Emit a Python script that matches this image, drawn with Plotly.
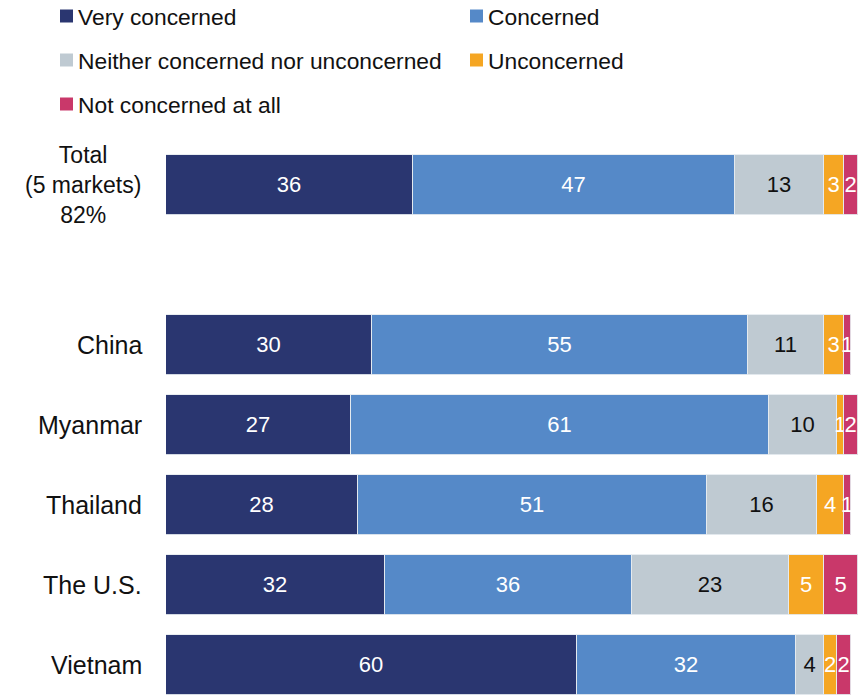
import plotly.graph_objects as go

# Row layout (empty string = spacer row between the total and the markets)
rows = ["Total<br>(5 markets)<br>82%", "", "China", "Myanmar", "Thailand", "The U.S.", "Vietnam"]

series_names = [
    "Very concerned",
    "Concerned",
    "Neither concerned nor unconcerned",
    "Unconcerned",
    "Not concerned at all",
]
series_colors = ["#2a3670", "#5589c8", "#bfcad2", "#f5a623", "#c9386a"]
label_colors = ["white", "white", "#111111", "white", "white"]

# Values per series, in the order of the non-empty rows
very_concerned = [36, 30, 27, 28, 32, 60]
concerned = [47, 55, 61, 51, 36, 32]
neither = [13, 11, 10, 16, 23, 4]
unconcerned = [3, 3, 1, 4, 5, 2]
not_at_all = [2, 1, 2, 1, 5, 2]
series_values = [very_concerned, concerned, neither, unconcerned, not_at_all]

W, H = 860, 695
FONT = "Liberation Sans, Arial, sans-serif"

y_pos = [i for i, r in enumerate(rows) if r]
y_labels = [r for r in rows if r]

fig = go.Figure()
for name, color, tcolor, vals in zip(series_names, series_colors, label_colors, series_values):
    fig.add_trace(go.Bar(
        x=vals, y=y_pos, orientation="h", name=name,
        marker=dict(color=color, line=dict(color="rgba(230,235,240,0.9)", width=1)),
        text=[str(v) for v in vals], textposition="inside", insidetextanchor="middle",
        textfont=dict(color=tcolor, size=22, family=FONT),
        width=0.75, showlegend=False, hoverinfo="skip",
    ))

# Category labels to the left of the bars
annotations = []
for yp, lab in zip(y_pos, y_labels):
    multi = "<br>" in lab
    annotations.append(dict(
        x=0, xref="x", y=yp, yref="y", text=lab, showarrow=False,
        xanchor="right", yanchor="middle", align="center",
        xshift=-23 if multi else -22,
        font=dict(size=23 if multi else 25, family=FONT, color="#111111"),
    ))

# Two-column legend drawn as swatches with labels
shapes = []
col_x = [60, 470]
row_y = [16, 60, 104]
sw = 13
for i, (name, color) in enumerate(zip(series_names, series_colors)):
    cx = col_x[i % 2]
    cy = row_y[i // 2]
    shapes.append(dict(
        type="rect", xref="paper", yref="paper",
        x0=cx / W, x1=(cx + sw) / W, y0=1 - (cy + sw / 2) / H, y1=1 - (cy - sw / 2) / H,
        fillcolor=color, line=dict(width=0),
    ))
    annotations.append(dict(
        x=(cx + 16) / W, xref="paper", y=1 - (cy + 1) / H, yref="paper",
        text=name, showarrow=False, xanchor="left", yanchor="middle",
        font=dict(size=22.8, family=FONT, color="#111111"),
    ))

fig.update_layout(
    width=W, height=H,
    margin=dict(l=0, r=0, t=0, b=0),
    barmode="stack", bargap=0,
    plot_bgcolor="white", paper_bgcolor="white",
    xaxis=dict(domain=[166 / W, 1], range=[0, 101.3], visible=False, fixedrange=True),
    yaxis=dict(range=[6 + 30 / 80, -0.5 - 145 / 80], visible=False, fixedrange=True),
    uniformtext=dict(minsize=22, mode="show"),
    annotations=annotations, shapes=shapes,
)

fig.write_html("out.html")
